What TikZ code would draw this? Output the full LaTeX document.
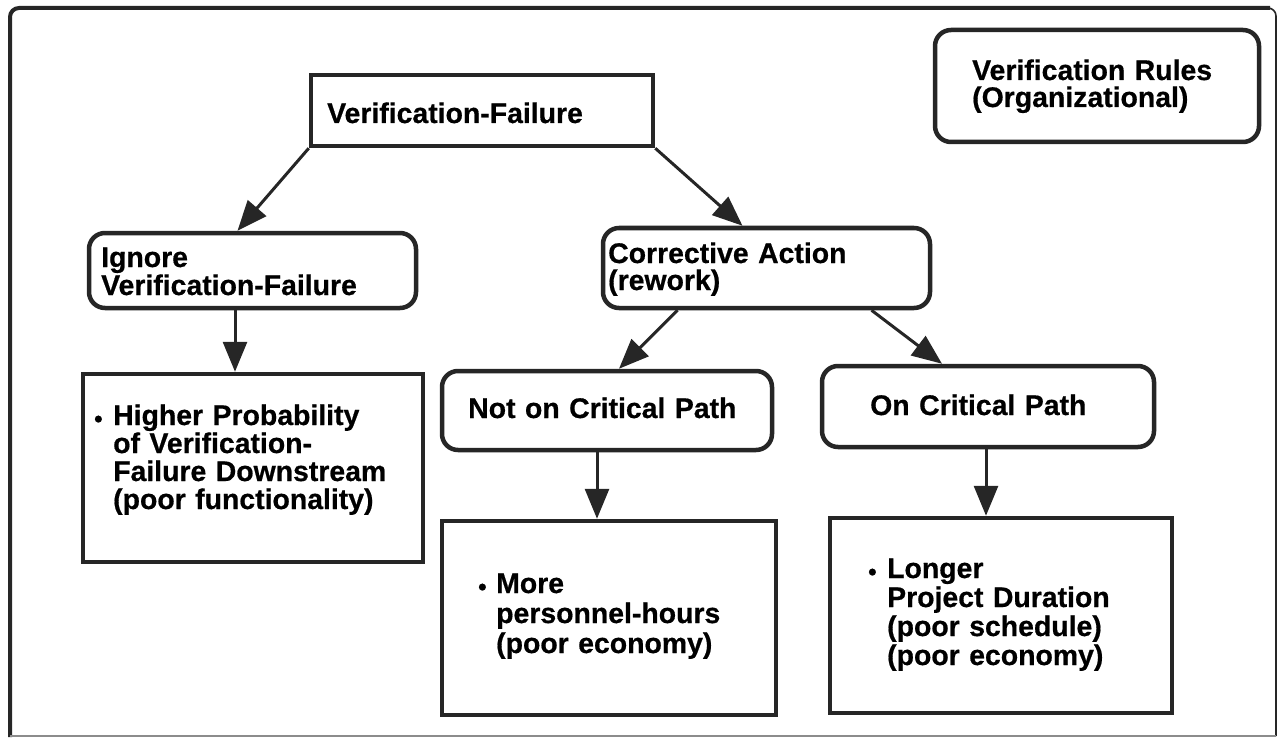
\documentclass[tikz,border=0pt]{standalone}
\usepackage{fontspec}
\setmainfont{Liberation Sans}[BoldFeatures={FakeBold=0.6}]
\usetikzlibrary{arrows.meta,calc}

\definecolor{ink}{gray}{0.15}

\tikzset{
  box/.style={draw=ink, line width=4.5pt, inner sep=0pt, fill=white},
  rbox/.style={box, rounded corners=16pt},
  txt/.style={anchor=base west, inner sep=0pt, text width=440pt, align=left,
              font=\bfseries\fontsize{28.4pt}{#1pt}\selectfont},
  txt/.default=28,
  flow/.style={draw=ink, line width=3pt,
               -{Triangle[length=30pt,width=24pt,fill=ink]}},
}
\newcommand{\bul}[1]{\makebox[#1pt][l]{\fontsize{24pt}{24pt}\selectfont\raisebox{-2pt}{•}}}

\begin{document}
\begin{tikzpicture}[x=1pt,y=-1pt]
  \useasboundingbox (0,0) rectangle (1282,738);

  % page frame
  \draw[ink, line width=4pt, rounded corners=9pt] (10,737) -- (10,8) -- (1270,8);
  \draw[ink, line width=1.6pt, rounded corners=8pt] (1264,8) -- (1276,8) -- (1276,736);
  \draw[black!45, line width=1.6pt] (10,736) -- (1276,736);

  % boxes
  \node[box,  minimum width=342pt, minimum height=71pt]  (vf)  at (482,110.5) {};
  \node[rbox, minimum width=324pt, minimum height=112pt] (vr)  at (1097,86)   {};
  \node[rbox, minimum width=327pt, minimum height=75pt]  (ign) at (252.5,270.5) {};
  \node[rbox, minimum width=327pt, minimum height=80pt]  (ca)  at (766.5,268) {};
  \node[rbox, minimum width=330pt, minimum height=79pt]  (nocp) at (607,410.5) {};
  \node[rbox, minimum width=332pt, minimum height=81pt]  (ocp) at (988,406.5) {};
  \node[box,  minimum width=340pt, minimum height=188pt] (hp)  at (253,468)   {};
  \node[box,  minimum width=334pt, minimum height=194pt] (more) at (609,618)  {};
  \node[box,  minimum width=342pt, minimum height=195pt] (lng) at (1001,615.5) {};

  % labels
  \node[txt] (vf-t)  at (327,123) {Verification-Failure};
  \node[txt=27] (vr-t) at (972,80) {Verification Rules\\(Organizational)};
  \node[txt] (ign-t) at (101,267) {Ignore\\Verification-Failure};
  \node[txt=27] (ca-t) at (608,263) {Corrective Action\\(rework)};
  \node[txt] (nocp-t) at (468,418) {Not on Critical Path};
  \node[txt] (ocp-t) at (870,415) {On Critical Path};
  \node[txt] (hp-t) at (94,425) {\bul{19}Higher Probability\\
    \hspace*{19pt}of Verification-\\
    \hspace*{19pt}Failure Downstream\\
    \hspace*{19pt}(poor functionality)};
  \node[txt=30] (more-t) at (478,593) {\bul{18}More\\
    \hspace*{18pt}personnel-hours\\
    \hspace*{18pt}(poor economy)};
  \node[txt=29] (lng-t) at (868,578) {\bul{19}Longer\\
    \hspace*{19pt}Project Duration\\
    \hspace*{19pt}(poor schedule)\\
    \hspace*{19pt}(poor economy)};

  % connectors
  \draw[flow] (vf.south west) -- ([xshift=-15pt]ign.north);
  \draw[flow] (vf.south east) -- ([xshift=-24pt]ca.north);
  \draw[flow] ([xshift=-89pt]ca.south) -- ([xshift=12pt]nocp.north);
  \draw[flow] ([xshift=105pt]ca.south) -- ([xshift=-46pt]ocp.north);
  \draw[flow] ([xshift=-17.5pt]ign.south) -- ([xshift=-18pt]hp.north);
  \draw[flow] ([xshift=-10pt]nocp.south) -- ([xshift=-12pt]more.north);
  \draw[flow] ([xshift=-2pt]ocp.south) -- ([xshift=-15pt]lng.north);
\end{tikzpicture}
\end{document}
